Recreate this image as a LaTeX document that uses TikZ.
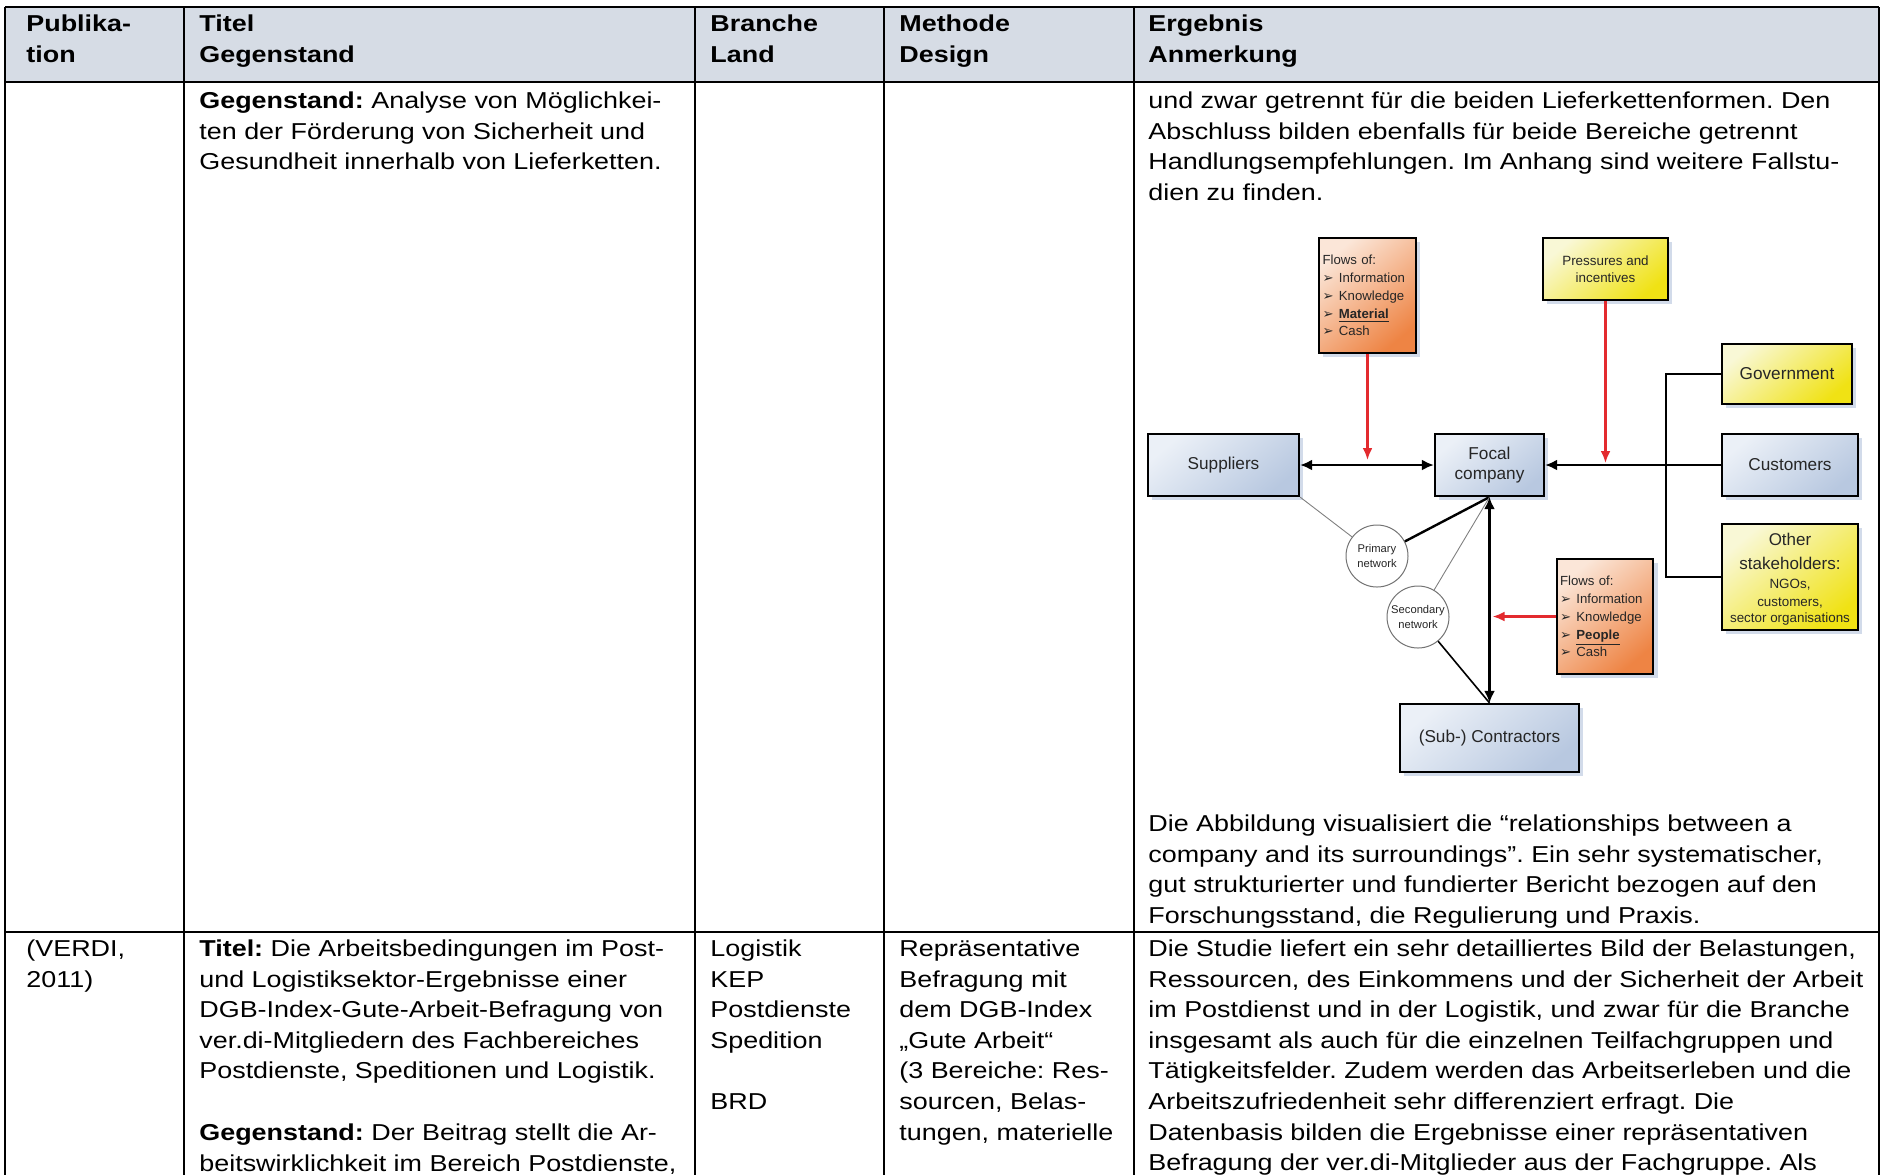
\documentclass[tikz,border=0pt]{standalone}
\usepackage{fontspec}
\setmainfont[FakeStretch=1.17]{Liberation Sans}
\newfontfamily\diagfont{Liberation Sans}
\newfontfamily\symfont{DejaVu Sans}
\usetikzlibrary{arrows.meta,shadows}
\definecolor{hdr}{HTML}{D6DCE5}
\definecolor{bL}{HTML}{EBF0F7}
\definecolor{bD}{HTML}{B8C8E0}
\definecolor{yL}{HTML}{F9F8D6}
\definecolor{yD}{HTML}{F0E214}
\definecolor{oL}{HTML}{FBE6D8}
\definecolor{oD}{HTML}{EE8444}
\definecolor{shd}{HTML}{D2DBEA}
\definecolor{redc}{HTML}{E32A2E}
\newcommand\fbul{\makebox[8.2pt][l]{\symfont\fontsize{6.6pt}{6pt}\selectfont ➢}}
\frenchspacing
\begin{document}
\frenchspacing
\begin{tikzpicture}[x=0.5pt,y=-0.5pt,
  txt/.style={anchor=base west, inner sep=0pt, font=\frenchspacing\fontsize{11.5pt}{15pt}\selectfont},
  htxt/.style={txt, font=\bfseries\fontsize{11.5pt}{15pt}\selectfont},
  tline/.style={line width=1pt, black},
  vline/.style={line width=0.8pt, black},
  dbox/.style={draw=black, line width=1.1pt, inner sep=0pt, align=center, text=black!85,
    font=\diagfont\fontsize{8.6pt}{10pt}\selectfont,
    drop shadow={shadow xshift=2.2pt, shadow yshift=-2.2pt, fill=shd, opacity=1}},
  bluebox/.style={dbox, top color=bL, bottom color=bD, shading angle=40},
  yelbox/.style={dbox, top color=yL, bottom color=yD, shading angle=40},
  orbox/.style={dbox, top color=oL, bottom color=oD, shading angle=40,
    font=\diagfont\fontsize{6.6pt}{8.9pt}\selectfont, align=left, text width=45pt, inner xsep=1.6pt},
  circ/.style={circle, draw=black!55, line width=0.5pt, fill=white, minimum size=31pt, inner sep=0pt,
    align=center, text=black!85, font=\diagfont\fontsize{5.6pt}{7.4pt}\selectfont},
  otxt/.style={anchor=base, inner sep=0pt, text=black!85},
  conn/.style={line width=1.4pt, black},
  dblarrow/.style={conn, {Latex[length=6pt,width=5.5pt]}-{Latex[length=6pt,width=5.5pt]}},
  redarrow/.style={line width=1.3pt, redc, -{Latex[length=6pt,width=5pt]}},
  greyline/.style={line width=0.45pt, black!50},
  medline/.style={line width=1.2pt, black},
  thinline/.style={line width=0.8pt, black}]
\useasboundingbox (0,0) rectangle (1881,1175);
% ---------- table ----------
\fill[hdr] (5,7) rectangle (1879,82);
\draw[tline] (5,7) -- (1879,7);
\draw[line width=1.4pt] (5,82) -- (1879,82);
\draw[tline] (5,932) -- (1879,932);
\foreach \cx in {5,184,695,884,1134,1879} \draw[vline] (\cx,7) -- (\cx,1175);
% header
\foreach \cx/\a/\b [count=\i] in {26/Publika-/tion, 199/Titel/Gegenstand, 710/Branche/Land, 899/Methode/Design, 1148/Ergebnis/Anmerkung}{
  \node[htxt] (h\i a) at (\cx,31.5) {\a};
  \node[htxt] (h\i b) at (\cx,62.5) {\b};
}
% row 2
\foreach \l [count=\i from 0] in {{\textbf{Gegenstand:} Analyse von Möglichkei-},{ten der Förderung von Sicherheit und},{Gesundheit innerhalb von Lieferketten.}}
  \node[txt] (rbb\i) at (199,{108.5+30.6*\i}) {\l};
\foreach \l [count=\i from 0] in {{und zwar getrennt für die beiden Lieferkettenformen. Den},{Abschluss bilden ebenfalls für beide Bereiche getrennt},{Handlungsempfehlungen. Im Anhang sind weitere Fallstu-},{dien zu finden.}}
  \node[txt] (rbe\i) at (1148,{108.5+30.6*\i}) {\l};
\foreach \l [count=\i from 0] in {{Die Abbildung visualisiert die “relationships between a},{company and its surroundings”. Ein sehr systematischer,},{gut strukturierter und fundierter Bericht bezogen auf den},{Forschungsstand, die Regulierung und Praxis.}}
  \node[txt] (rbf\i) at (1148,{831.5+30.6*\i}) {\l};
% row 3
\foreach \l [count=\i from 0] in {{(VERDI,},{2011)}}
  \node[txt] (rca\i) at (26,{956.5+30.6*\i}) {\l};
\foreach \l [count=\i from 0] in {{\textbf{Titel:} Die Arbeitsbedingungen im Post-},{und Logistiksektor-Ergebnisse einer},{DGB-Index-Gute-Arbeit-Befragung von},{ver.di-Mitgliedern des Fachbereiches},{Postdienste, Speditionen und Logistik.}}
  \node[txt] (rcb\i) at (199,{956.5+30.6*\i}) {\l};
\foreach \l [count=\i from 0] in {{\textbf{Gegenstand:} Der Beitrag stellt die Ar-},{beitswirklichkeit im Bereich Postdienste,}}
  \node[txt] (rcg\i) at (199,{1140.5+30.6*\i}) {\l};
\foreach \l [count=\i from 0] in {Logistik,KEP,Postdienste,Spedition}
  \node[txt] (rcc\i) at (710,{956.5+30.6*\i}) {\l};
\node[txt] (rcbrd) at (710,1109.5) {BRD};
\foreach \l [count=\i from 0] in {{Repräsentative},{Befragung mit},{dem DGB-Index},{„Gute Arbeit“},{(3 Bereiche: Res-},{sourcen, Belas-},{tungen, materielle}}
  \node[txt] (rcd\i) at (899,{956.5+30.6*\i}) {\l};
\foreach \l [count=\i from 0] in {{Die Studie liefert ein sehr detailliertes Bild der Belastungen,},{Ressourcen, des Einkommens und der Sicherheit der Arbeit},{im Postdienst und in der Logistik, und zwar für die Branche},{insgesamt als auch für die einzelnen Teilfachgruppen und},{Tätigkeitsfelder. Zudem werden das Arbeitserleben und die},{Arbeitszufriedenheit sehr differenziert erfragt. Die},{Datenbasis bilden die Ergebnisse einer repräsentativen},{Befragung der ver.di-Mitglieder aus der Fachgruppe. Als}}
  \node[txt] (rce\i) at (1148,{956.5+30.6*\i}) {\l};
% ---------- diagram ----------
\node[bluebox, minimum width=75.5pt, minimum height=31pt] (sup) at (1223.5,465) {Suppliers};
\node[bluebox, minimum width=54.5pt, minimum height=31pt] (focal) at (1489.5,465) {Focal\\company};
\node[bluebox, minimum width=89.5pt, minimum height=34pt] (sub) at (1489.5,738) {(Sub-) Contractors};
\node[orbox, minimum width=48.5pt, minimum height=57.5pt] (flowsM) at (1367.5,295.5)
  {Flows of:\\\fbul Information\\\fbul Knowledge\\\fbul \underline{\textbf{Material}}\\\fbul Cash};
\node[yelbox, minimum width=62.5pt, minimum height=31pt, font=\diagfont\fontsize{6.7pt}{8.5pt}\selectfont] (press) at (1605.5,269) {Pressures and\\incentives};
\node[yelbox, minimum width=65pt, minimum height=30pt] (gov) at (1787,374) {Government};
\node[bluebox, minimum width=68pt, minimum height=31pt] (cust) at (1790,465) {Customers};
\node[yelbox, minimum width=68pt, minimum height=53pt] (other) at (1790,577) {};
\node[orbox, minimum width=48pt, minimum height=57.5pt] (flowsP) at (1605,616.5)
  {Flows of:\\\fbul Information\\\fbul Knowledge\\\fbul \underline{\textbf{People}}\\\fbul Cash};
\node[otxt, font=\diagfont\fontsize{8.5pt}{10pt}\selectfont] (oth1) at (1790,545) {Other};
\node[otxt, font=\diagfont\fontsize{8.5pt}{10pt}\selectfont] (oth2) at (1790,569) {stakeholders:};
\node[otxt, font=\diagfont\fontsize{6.7pt}{8pt}\selectfont] (oth3) at (1790,588) {NGOs,};
\node[otxt, font=\diagfont\fontsize{6.7pt}{8pt}\selectfont] (oth4) at (1790,606) {customers,};
\node[otxt, font=\diagfont\fontsize{6.7pt}{8pt}\selectfont] (oth5) at (1790,622) {sector organisations};
\node[circ] (prim) at (1377,556) {Primary\\network};
\node[circ] (sec) at (1418,617) {Secondary\\network};
% connectors
\draw[greyline] (sup.south east) -- (prim);
\draw[medline] (prim) -- (focal.south);
\draw[greyline] (sec) -- (focal.south);
\draw[thinline] (sec) -- (sub.north);
\draw[dblarrow] (sup) -- (focal);
\draw[conn] (gov.west) -- ++(-55,0) |- (other.west);
\draw[conn, -{Latex[length=6pt,width=5.5pt]}] (cust.west) -- (focal.east);
\draw[dblarrow] (focal.south) -- (sub.north);
\draw[redarrow] (flowsM.south) -- ([yshift=2.5pt]flowsM.south |- sup.east);
\draw[redarrow] (press.south) -- ([yshift=1pt]press.south |- focal.east);
\draw[redarrow] (flowsP.west) -- ([xshift=1.5pt]flowsP.west -| focal.south);
\end{tikzpicture}
\end{document}
